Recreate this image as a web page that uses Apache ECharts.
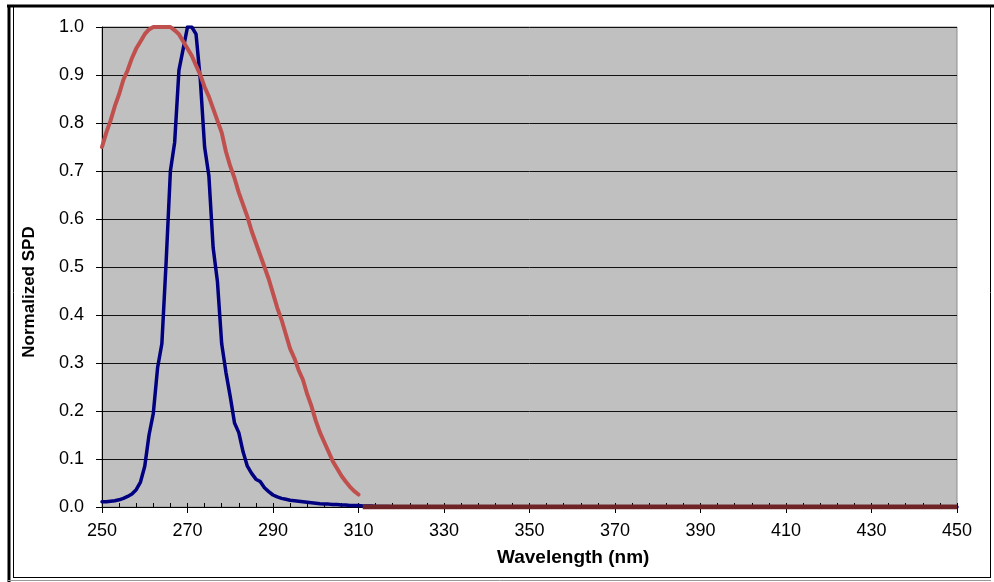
<!DOCTYPE html>
<html>
<head>
<meta charset="utf-8">
<script src="https://cdn.jsdelivr.net/npm/echarts@6/dist/echarts.min.js"></script>
<style>
html,body{margin:0;padding:0;background:#fff;}
#chart{width:994px;height:582px;}
</style>
</head>
<body>
<div id="chart"></div>
<script>
// X axis tick labels (nm)
const xTicks = [250, 270, 290, 310, 330, 350, 370, 390, 410, 430, 450];
// Y axis tick labels
const yTicks = ['0.0','0.1','0.2','0.3','0.4','0.5','0.6','0.7','0.8','0.9','1.0'];

// Blue series (narrow-band SPD)
const blueWl = [250,251,252,253,254,255,256,257,258,259,260,261,262,263,264,265,266,267,268,269,
  270,271,272,273,274,275,276,277,278,279,280,281,282,283,284,285,286,287,288,289,
  290,291,292,293,294,295,296,297,298,299,300,301,302,303,304,305,306,307,308,309,
  310,311,312,313,314,315,316,317,318,319,320,450];
const blueVal = [0.011,0.011,0.012,0.013,0.015,0.018,0.022,0.027,0.036,0.052,0.085,0.15,0.195,0.29,0.34,0.51,0.70,0.76,0.91,0.955,
  1.0,1.0,0.985,0.89,0.75,0.69,0.54,0.47,0.34,0.28,0.23,0.175,0.155,0.115,0.085,0.07,0.058,0.053,0.04,0.032,
  0.025,0.021,0.018,0.016,0.014,0.013,0.012,0.011,0.010,0.009,0.008,0.007,0.0065,0.006,0.005,0.005,0.004,0.004,0.003,0.003,
  0.003,0.002,0.002,0.002,0.001,0.001,0.001,0.001,0.0005,0.0005,0,0];

// Red series (broad-band SPD)
const redWl = [250,251,252,253,254,255,256,257,258,259,260,261,262,263,264,265,266,267,268,269,
  270,271,272,273,274,275,276,277,278,279,280,281,282,283,284,285,286,287,288,289,
  290,291,292,293,294,295,296,297,298,299,300,301,302,303,304,305,306,307,308,309,310];
const redVal = [0.75,0.78,0.805,0.835,0.86,0.89,0.91,0.935,0.955,0.97,0.985,0.995,1.0,1.0,1.0,1.0,1.0,0.993,0.985,0.97,
  0.955,0.94,0.92,0.90,0.875,0.855,0.83,0.805,0.78,0.74,0.71,0.685,0.655,0.63,0.605,0.575,0.55,0.525,0.50,0.475,
  0.445,0.415,0.39,0.36,0.33,0.31,0.285,0.265,0.235,0.21,0.18,0.155,0.135,0.115,0.095,0.08,0.065,0.053,0.042,0.033,0.026];
// Red series continuation at zero
const redTailWl = [311, 450];
const redTailVal = [0, 0];

const zip = (a, b) => a.map((x, i) => [x, b[i]]);

const chart = echarts.init(document.getElementById('chart'), null, {renderer: 'canvas'});
const tickFont = 'Liberation Sans';
chart.setOption({
  animation: false,
  backgroundColor: '#ffffff',
  grid: {left: 102, right: 37, top: 27, bottom: 75, show: true,
         backgroundColor: '#C0C0C0', borderColor: '#8c8c8c', borderWidth: 1},
  xAxis: [{
    type: 'value', min: xTicks[0], max: xTicks[xTicks.length - 1], interval: 20,
    axisLine: {show: true, onZero: false, lineStyle: {color: '#000', width: 1}},
    axisTick: {show: true, length: 6, lineStyle: {color: '#000'}},
    axisLabel: {color: '#000', fontFamily: tickFont, fontSize: 18, margin: 15},
    splitLine: {show: false}
  }, {
    type: 'value', min: xTicks[0], max: xTicks[xTicks.length - 1], interval: 4,
    position: 'bottom',
    axisLine: {show: false},
    axisTick: {show: true, inside: true, length: 4, lineStyle: {color: '#000'}},
    axisLabel: {show: false},
    splitLine: {show: false}
  }],
  yAxis: {
    type: 'value', min: 0, max: 1, interval: 0.1,
    axisLine: {show: true, lineStyle: {color: '#000', width: 1}},
    axisTick: {show: true, length: 6, lineStyle: {color: '#000'}},
    axisLabel: {color: '#000', fontFamily: tickFont, fontSize: 18, margin: 18,
                formatter: (v) => yTicks[Math.round(v * 10)]},
    splitLine: {show: true, lineStyle: {color: '#111', width: 1}}
  },
  series: [{
    type: 'line', name: 'Blue', data: zip(blueWl, blueVal), xAxisIndex: 0,
    showSymbol: false, symbol: 'none',
    lineStyle: {color: '#000080', width: 3.5, join: 'round', cap: 'round'}, z: 3
  }, {
    type: 'line', name: 'Red', data: zip(redWl, redVal), xAxisIndex: 0,
    showSymbol: false, symbol: 'none',
    lineStyle: {color: '#C0504D', width: 4, join: 'round', cap: 'round'}, z: 4
  }, {
    type: 'line', name: 'Red tail', data: zip(redTailWl, redTailVal), xAxisIndex: 0,
    showSymbol: false, symbol: 'none',
    lineStyle: {color: '#6E2427', width: 5}, z: 4
  }],
  graphic: [
    {type: 'text', left: 497, top: 548, z: 10,
     style: {text: 'Wavelength (nm)', font: 'bold 19px "Liberation Sans"', fill: '#000'}},
    {type: 'text', x: 29, y: 292, rotation: Math.PI / 2, z: 10,
     style: {text: 'Normalized SPD', font: 'bold 17px "Liberation Sans"', fill: '#000',
             align: 'center', verticalAlign: 'middle'}},
    // outer frame
    {type: 'line', shape: {x1: 7, y1: 6, x2: 994, y2: 6}, style: {stroke: '#000', lineWidth: 3}},
    {type: 'line', shape: {x1: 9, y1: 5, x2: 9, y2: 582}, style: {stroke: '#000', lineWidth: 3}},
    {type: 'line', shape: {x1: 13.5, y1: 7, x2: 13.5, y2: 578}, style: {stroke: '#000', lineWidth: 1}},
    {type: 'line', shape: {x1: 990.5, y1: 7, x2: 990.5, y2: 578}, style: {stroke: '#000', lineWidth: 1}},
    {type: 'line', shape: {x1: 13, y1: 577.5, x2: 991, y2: 577.5}, style: {stroke: '#000', lineWidth: 1}},
    {type: 'line', shape: {x1: 8, y1: 580.5, x2: 991, y2: 580.5}, style: {stroke: '#999', lineWidth: 1}}
  ]
});
</script>
</body>
</html>
